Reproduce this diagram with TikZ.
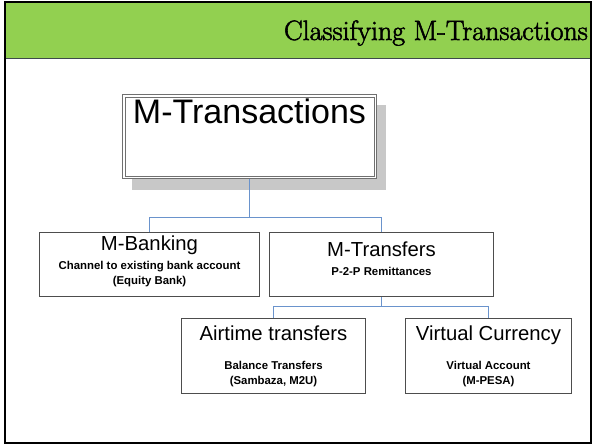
\documentclass[tikz,border=0pt]{standalone}
\usepackage{fontspec}
\setsansfont{Liberation Sans}
\newfontfamily\titlefont[FakeBold=2]{Latin Modern Roman}
\usetikzlibrary{calc}
\definecolor{headgreen}{HTML}{92D050}
\definecolor{headline}{HTML}{3E4A4A}
\definecolor{linkblue}{HTML}{6A93CC}
\definecolor{boxgray}{HTML}{4D4D4D}
\definecolor{rootgray}{HTML}{707070}
\definecolor{shadowgray}{HTML}{C8C8C8}
\begin{document}
\begin{tikzpicture}[x=1pt,y=-1pt,
  box/.style={draw=boxgray, line width=0.9pt, fill=white, inner sep=0pt},
  rootbox/.style={draw=rootgray, line width=0.8pt, fill=white, inner sep=0pt},
  rootinner/.style={draw=rootgray, line width=0.8pt},
  shadowbox/.style={fill=shadowgray, draw=none, inner sep=0pt},
  link/.style={color=linkblue, line width=1pt},
  headtext/.style={font=\sffamily\fontsize{34}{40}\selectfont, anchor=base, inner sep=0pt},
  bigtext/.style={font=\sffamily\fontsize{20.3}{24}\selectfont, anchor=base, inner sep=0pt},
  smalltext/.style={font=\sffamily\bfseries\fontsize{11.4}{14}\selectfont, anchor=base, inner sep=0pt}]
\useasboundingbox (0,0) rectangle (594,445);
\fill[white] (0,0) rectangle (594,445);

% slide header
\fill[headgreen] (5,3) rectangle (591,58);
\draw[headline, line width=1.5pt] (5,58.5) -- (591,58.5);
\node[anchor=base east, inner sep=0pt, font=\titlefont\fontsize{28}{32}\selectfont] (title) at (588,40)
  {Classifying M-Transactions};

% junction points of the connectors
\coordinate (j1) at (249.5,217.5);
\coordinate (j2) at (381.5,306.5);

% root of the hierarchy: drop shadow, outer and inner border
\node[shadowbox, minimum width=254pt, minimum height=85pt] (rootshadow) at (259,147.4) {};
\node[rootbox, minimum width=253.6pt, minimum height=84.2pt] (root) at (249.5,136.7) {};
\draw[rootinner] ($(root.south west)+(2.7,-2.7)$) rectangle ($(root.north east)+(-2.7,2.7)$);
\node[headtext] (rootlbl) at (249.5,123.3) {M-Transactions};

% first level
\node[box, minimum width=220pt, minimum height=63.8pt] (bank) at (149.5,264.6) {};
\node[box, minimum width=224.6pt, minimum height=63.8pt] (xfer) at (381.5,264.6) {};

% second level
\node[box, minimum width=184.5pt, minimum height=74.7pt] (air) at (273.5,355.65) {};
\node[box, minimum width=166pt, minimum height=74.7pt] (virt) at (488.5,355.65) {};

% connectors
\begin{scope}[link]
  \draw (root.south) -- (root.south |- j1);
  \draw (bank.north) |- (j1) -| (xfer.north);
  \draw (xfer.south) -- (j2);
  \draw (air.north) |- (j2) -| (virt.north);
\end{scope}

% box texts
\node[bigtext] (banklbl) at (149.5,250) {M-Banking};
\node[smalltext] (banksub) at (149.5,269.5) {Channel to existing bank account};
\node[smalltext] (bankex) at (149.5,284.5) {(Equity Bank)};

\node[bigtext] (xferlbl) at (381.5,256.7) {M-Transfers};
\node[smalltext] (xfersub) at (381.5,275) {P-2-P Remittances};

\node[bigtext] (airlbl) at (273.5,340) {Airtime transfers};
\node[smalltext] (airsub) at (273.5,369.7) {Balance Transfers};
\node[smalltext] (airex) at (273.5,384) {(Sambaza, M2U)};

\node[bigtext] (virtlbl) at (488.5,340) {Virtual Currency};
\node[smalltext] (virtsub) at (488.5,369.7) {Virtual Account};
\node[smalltext] (virtex) at (488.5,384) {(M-PESA)};

% slide frame
\draw[black, line width=2.5pt] (5,2) rectangle (591,443);
\end{tikzpicture}
\end{document}
